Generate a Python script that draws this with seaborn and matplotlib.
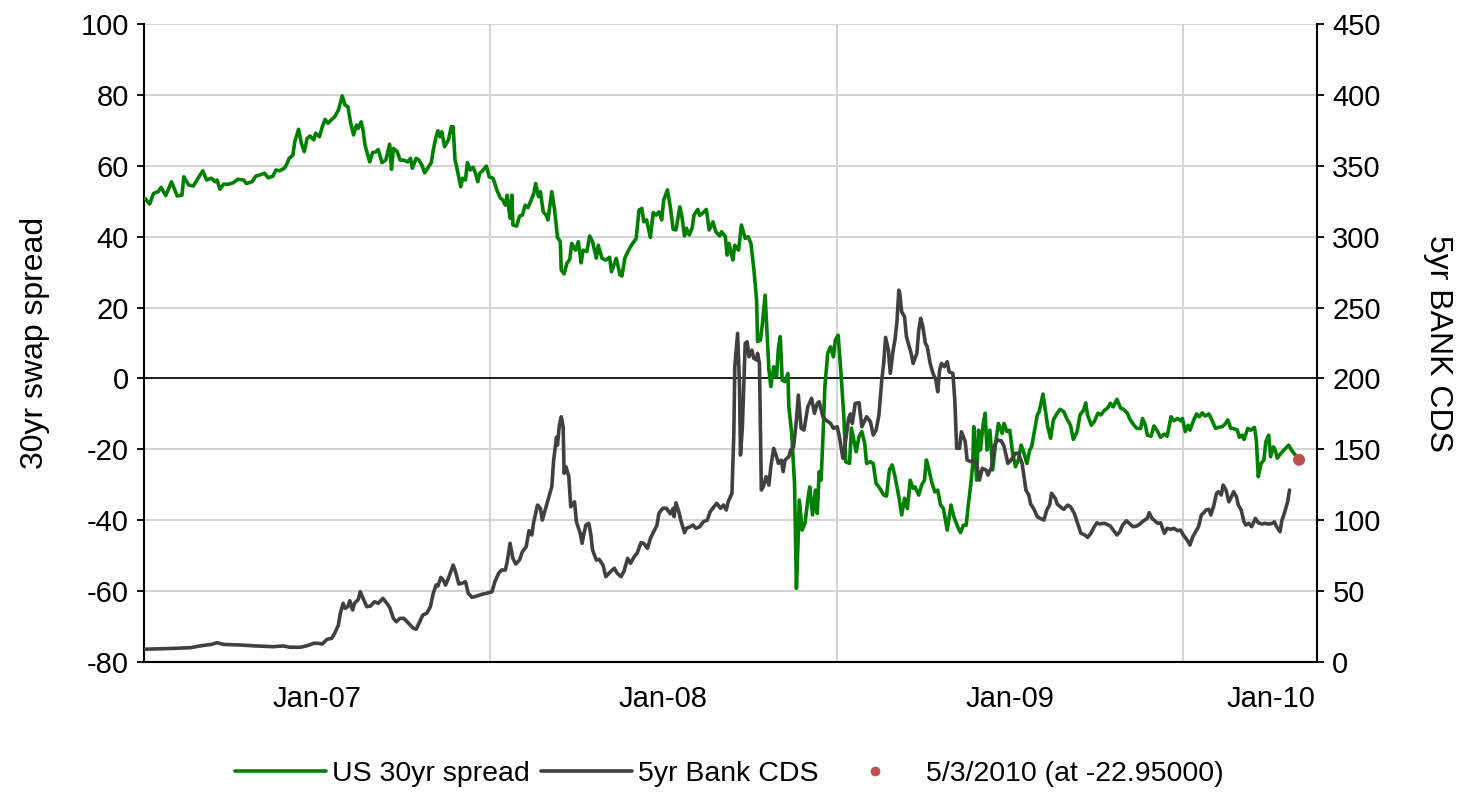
import pandas as pd
import matplotlib
matplotlib.use("Agg")
import matplotlib.pyplot as plt
import matplotlib.dates as mdates
import matplotlib.ticker as mticker
from matplotlib.lines import Line2D
from matplotlib.transforms import blended_transform_factory
import seaborn as sns

sns.set_style("white")
plt.rcParams["font.family"] = ["Liberation Sans", "DejaVu Sans"]
plt.rcParams["axes.unicode_minus"] = False
for key in ("text.color", "axes.labelcolor", "xtick.color", "ytick.color"):
    plt.rcParams[key] = "black"

# ---------------------------------------------------------------- data
START = pd.Timestamp("2007-01-01")

# US 30yr swap spread (bp); observation dates as days since 1 Jan 2007
spread_day = [
    1, 6, 10, 15, 18, 23, 29, 35, 40, 42, 47, 52, 57, 62, 66, 71, 75, 77, 80, 84,
    89, 94, 99, 105, 108, 114, 118, 122, 127, 131, 136, 139, 143, 148, 151, 153, 157, 159, 163, 166,
    169, 172, 175, 179, 181, 185, 188, 191, 194, 198, 201, 205, 209, 212, 215, 218, 221, 224, 226, 229,
    231, 233, 238, 241, 245, 247, 251, 255, 259, 261, 263, 267, 270, 274, 278, 281, 283, 287, 290, 293,
    296, 300, 303, 305, 308, 310, 312, 314, 317, 321, 324, 326, 328, 330, 334, 336, 339, 341, 344, 347,
    349, 352, 354, 357, 361, 364, 368, 370, 372, 376, 378, 381, 383, 386, 388, 389, 393, 396, 399, 402,
    405, 409, 411, 413, 416, 418, 421, 424, 426, 430, 433, 436, 439, 440, 443, 446, 449, 451, 455, 458,
    461, 463, 467, 470, 473, 477, 479, 483, 487, 491, 493, 498, 502, 504, 507, 511, 514, 519, 522, 525,
    527, 530, 534, 537, 540, 543, 546, 548, 552, 555, 558, 561, 565, 567, 570, 572, 575, 578, 580, 584,
    586, 589, 593, 596, 600, 603, 607, 609, 613, 615, 617, 621, 623, 627, 630, 634, 637, 640, 643, 646,
    647, 650, 652, 655, 657, 659, 661, 664, 667, 669, 671, 673, 676, 679, 680, 683, 686, 688, 690, 691,
    694, 697, 700, 702, 705, 708, 710, 712, 714, 716, 718, 721, 724, 727, 729, 732, 735, 738, 740, 744,
    746, 751, 754, 757, 760, 762, 766, 769, 772, 776, 780, 783, 786, 789, 792, 796, 799, 802, 805, 808,
    811, 813, 817, 820, 823, 825, 827, 831, 834, 837, 840, 843, 847, 851, 854, 858, 861, 864, 867, 869,
    872, 874, 875, 878, 880, 882, 885, 887, 889, 892, 895, 898, 901, 905, 907, 910, 913, 916, 919, 922,
    925, 927, 931, 934, 936, 940, 942, 944, 948, 950, 953, 956, 959, 963, 966, 970, 973, 977, 980, 984,
    987, 991, 993, 995, 999, 1002, 1006, 1009, 1013, 1016, 1019, 1022, 1026, 1030, 1033, 1037, 1040, 1044, 1047, 1051,
    1053, 1056, 1058, 1062, 1065, 1069, 1072, 1076, 1079, 1083, 1086, 1090, 1093, 1095, 1098, 1101, 1103, 1107, 1110, 1113,
    1116, 1119, 1123, 1126, 1130, 1133, 1137, 1140, 1143, 1146, 1149, 1153, 1155, 1158, 1160, 1164, 1167, 1171, 1173, 1175,
    1178, 1181, 1183, 1186, 1188, 1191, 1193, 1195, 1199, 1202, 1205, 1207, 1210,
]
spread_bp = [
    50.8, 49.2, 52.2, 52.7, 53.9, 51.6, 55.5, 51.5, 51.7, 56.9, 54.6, 54.3, 56.5, 58.6, 56.0, 56.5, 55.5, 56.0, 53.4, 54.8,
    54.8, 55.2, 56.2, 56.0, 55.0, 55.5, 57.1, 57.4, 57.9, 56.6, 57.1, 58.8, 58.6, 59.3, 60.7, 62.1, 63.0, 66.8, 70.3, 66.3,
    64.0, 67.7, 68.4, 67.3, 69.2, 68.2, 71.0, 73.1, 72.0, 73.1, 73.8, 75.7, 79.7, 77.1, 76.7, 72.0, 68.7, 71.5, 70.6, 72.4,
    70.1, 65.9, 61.1, 63.7, 64.0, 64.6, 60.9, 61.6, 66.1, 59.0, 64.9, 64.0, 61.6, 61.6, 61.1, 62.1, 59.3, 62.1, 61.6, 60.2,
    58.0, 59.7, 60.9, 64.4, 68.2, 69.9, 68.2, 69.6, 65.4, 67.3, 71.0, 71.0, 61.6, 59.3, 54.1, 56.5, 56.0, 60.9, 58.8, 59.6,
    58.3, 55.5, 57.9, 58.6, 59.9, 56.9, 56.5, 55.0, 53.2, 50.8, 50.5, 48.9, 51.7, 45.2, 51.7, 43.3, 43.0, 45.8, 46.1, 48.9,
    48.2, 50.8, 52.2, 55.0, 51.3, 52.7, 47.0, 46.1, 44.7, 52.7, 47.5, 39.8, 38.6, 30.6, 29.5, 32.5, 33.6, 38.1, 36.2, 38.6,
    32.6, 36.2, 35.8, 40.2, 38.6, 33.9, 37.6, 33.9, 33.4, 34.2, 30.1, 33.9, 29.2, 28.9, 33.9, 36.2, 37.6, 39.5, 47.5, 48.0,
    44.2, 44.7, 39.8, 46.8, 46.1, 47.0, 44.7, 50.3, 53.2, 48.4, 42.1, 41.9, 48.4, 46.1, 40.2, 42.4, 40.5, 42.4, 46.1, 47.7,
    46.0, 46.6, 47.7, 41.9, 44.2, 41.4, 40.2, 41.4, 40.0, 34.8, 38.1, 33.4, 37.6, 36.2, 43.3, 39.5, 40.0, 38.1, 31.1, 22.1,
    10.4, 10.8, 15.1, 23.5, 12.7, 2.4, -2.3, 3.3, 0.5, 8.5, 11.8, -0.5, -0.9, 1.4, -8.0, -15.5, -29.6, -59.2, -43.7, -34.3,
    -42.8, -40.9, -34.3, -30.6, -38.5, -31.5, -38.1, -26.3, -28.7, -16.4, -2.3, 7.1, 8.9, 6.1, 10.8, 12.2, 1.4, -10.8, -23.5, -24.0,
    -14.0, -20.7, -16.4, -15.0, -18.3, -24.0, -23.5, -24.0, -29.6, -31.0, -32.9, -33.2, -25.8, -24.4, -27.7, -33.4, -38.5, -33.8, -36.7, -28.7,
    -31.0, -30.6, -32.9, -30.1, -28.7, -23.0, -24.9, -29.6, -32.0, -31.5, -35.7, -36.7, -42.8, -35.7, -39.0, -41.8, -43.5, -41.4, -41.4, -36.2,
    -29.6, -24.0, -13.6, -28.7, -14.6, -20.2, -12.7, -9.8, -20.2, -14.6, -25.8, -18.3, -12.7, -15.5, -12.7, -15.0, -14.6, -21.1, -24.9, -23.0,
    -18.8, -20.2, -24.0, -20.2, -19.3, -13.2, -10.3, -9.4, -4.4, -8.0, -13.6, -16.9, -11.7, -9.8, -8.7, -9.4, -11.3, -13.2, -17.2, -15.0,
    -10.3, -8.9, -6.9, -10.3, -13.2, -12.2, -9.8, -10.3, -8.9, -8.4, -7.0, -8.0, -5.9, -8.4, -8.7, -9.8, -11.7, -13.2, -14.1, -14.1,
    -11.3, -13.2, -16.0, -16.3, -13.4, -15.0, -16.6, -15.7, -16.3, -10.8, -11.9, -11.3, -11.9, -11.3, -15.0, -13.2, -14.6, -11.7, -10.0, -10.8,
    -9.7, -10.6, -10.0, -11.7, -14.1, -13.8, -13.6, -12.9, -11.7, -14.1, -14.1, -14.6, -16.6, -16.0, -17.2, -14.1, -14.6, -13.8, -17.4, -27.7,
    -24.0, -23.0, -17.9, -16.0, -22.1, -19.3, -20.2, -22.5, -21.1, -20.2, -19.4, -18.8, -20.2,
]

# latest spread observation, highlighted with a marker
last_date = "2010-05-03"
last_value = -22.95

# 5yr bank CDS (bp); observation dates as days since 1 Jan 2007
cds_day = [
    0, 31, 49, 59, 66, 71, 77, 84, 101, 119, 136, 147, 154, 165, 172, 179, 184, 188, 193, 198,
    201, 205, 207, 210, 212, 215, 217, 220, 222, 226, 228, 231, 235, 239, 243, 247, 252, 256, 259, 263,
    266, 270, 274, 279, 284, 287, 290, 294, 298, 302, 305, 308, 310, 313, 316, 318, 321, 326, 328, 332,
    335, 339, 342, 346, 351, 356, 361, 367, 370, 374, 377, 381, 383, 386, 389, 392, 396, 399, 403, 406,
    409, 411, 415, 418, 420, 424, 428, 430, 432, 435, 436, 438, 440, 442, 443, 445, 448, 450, 454, 456,
    460, 462, 464, 466, 469, 471, 473, 477, 480, 484, 487, 492, 496, 499, 503, 506, 510, 513, 517, 520,
    524, 527, 531, 534, 537, 541, 543, 547, 551, 555, 558, 559, 561, 564, 566, 570, 572, 576, 579, 582,
    586, 590, 594, 597, 601, 604, 608, 611, 614, 616, 620, 622, 623, 626, 628, 629, 631, 634, 636, 638,
    641, 643, 646, 647, 649, 651, 653, 656, 659, 661, 664, 667, 669, 672, 674, 676, 680, 682, 685, 688,
    690, 693, 696, 700, 704, 707, 710, 712, 716, 719, 724, 727, 731, 733, 737, 740, 743, 745, 747, 750,
    754, 757, 762, 766, 769, 772, 775, 778, 780, 782, 785, 787, 790, 792, 794, 796, 797, 799, 802, 804,
    806, 809, 811, 815, 817, 819, 821, 824, 826, 829, 832, 835, 837, 839, 841, 844, 847, 849, 853, 855,
    857, 860, 862, 866, 868, 872, 875, 878, 881, 884, 888, 890, 894, 896, 900, 904, 907, 911, 915, 919,
    922, 926, 928, 930, 933, 935, 938, 942, 945, 949, 952, 955, 957, 961, 963, 967, 970, 974, 977, 981,
    984, 988, 992, 995, 999, 1002, 1005, 1008, 1012, 1015, 1019, 1022, 1026, 1029, 1032, 1036, 1039, 1043, 1047, 1051,
    1054, 1058, 1060, 1063, 1066, 1069, 1072, 1076, 1079, 1083, 1086, 1090, 1093, 1096, 1100, 1103, 1106, 1110, 1112, 1115,
    1117, 1120, 1123, 1125, 1128, 1131, 1133, 1136, 1138, 1141, 1144, 1146, 1149, 1152, 1154, 1157, 1160, 1162, 1165, 1168,
    1172, 1175, 1179, 1182, 1186, 1190, 1192, 1194, 1198, 1200, 1202, 1205, 1206, 1208,
]
cds_bp = [
    9.0, 9.6, 10.1, 11.3, 12.0, 12.4, 13.6, 12.4, 12.0, 11.3, 10.8, 11.3, 10.4, 10.4, 11.5, 13.2, 13.2, 12.7, 16.0, 16.7,
    20.2, 26.1, 34.3, 41.4, 37.9, 39.0, 43.2, 36.7, 41.4, 44.2, 49.6, 44.9, 39.0, 39.5, 42.5, 41.4, 44.9, 41.4, 38.6, 30.8,
    28.4, 30.8, 30.8, 27.3, 23.8, 23.1, 27.3, 33.1, 34.3, 39.0, 48.4, 54.3, 53.6, 59.7, 57.3, 54.3, 59.0, 68.4, 64.9, 55.0,
    55.5, 56.6, 48.4, 45.6, 46.5, 47.7, 48.4, 49.6, 56.6, 62.6, 64.9, 64.9, 70.7, 83.7, 73.1, 69.1, 72.0, 77.8, 81.3, 92.6,
    89.6, 98.9, 110.7, 108.4, 100.1, 109.5, 119.0, 123.6, 142.4, 158.5, 153.0, 167.1, 173.0, 165.9, 133.1, 137.7, 130.7, 109.5, 113.0, 98.9,
    90.8, 83.7, 90.8, 96.6, 97.8, 90.8, 79.0, 71.9, 72.4, 68.4, 60.2, 63.7, 66.1, 62.6, 60.2, 63.7, 73.1, 69.6, 74.3, 76.7,
    84.1, 83.7, 80.2, 87.2, 91.2, 96.6, 104.9, 108.4, 108.4, 104.4, 108.4, 102.5, 112.3, 106.0, 100.1, 91.2, 94.3, 95.4, 96.6, 94.3,
    95.4, 99.0, 100.1, 106.0, 109.5, 111.9, 108.4, 110.7, 107.2, 113.0, 119.0, 161.3, 208.3, 231.8, 194.2, 146.0, 165.9, 224.8, 225.9, 215.3,
    220.0, 214.2, 213.0, 217.7, 210.6, 121.3, 123.6, 130.7, 124.8, 137.7, 150.7, 144.8, 140.1, 142.4, 134.2, 142.4, 144.8, 149.5, 151.8, 170.7,
    188.3, 164.8, 163.6, 180.0, 186.0, 175.4, 182.4, 183.6, 173.0, 170.7, 168.3, 164.8, 165.9, 160.1, 143.7, 156.6, 171.9, 175.0, 168.3, 182.4,
    182.9, 165.9, 173.0, 169.5, 160.1, 163.6, 174.2, 198.9, 210.6, 229.0, 220.0, 203.6, 220.0, 227.6, 240.0, 262.3, 260.0, 247.0, 243.5, 229.4,
    224.8, 217.7, 210.6, 217.7, 234.1, 242.4, 237.7, 224.8, 222.4, 210.6, 203.6, 198.9, 190.6, 205.9, 210.6, 208.3, 211.8, 204.7, 203.6, 184.8,
    150.7, 150.7, 162.4, 155.4, 142.4, 141.3, 142.4, 140.1, 128.3, 136.6, 135.4, 131.9, 137.7, 151.8, 156.6, 156.0, 152.0, 140.1, 143.0, 147.2,
    147.2, 140.1, 130.7, 121.3, 117.8, 111.4, 108.4, 102.5, 101.3, 100.1, 107.2, 110.7, 119.0, 115.4, 111.4, 109.1, 107.7, 110.7, 109.5, 104.9,
    98.9, 90.8, 89.6, 87.9, 91.2, 95.4, 98.2, 97.3, 97.8, 97.3, 95.9, 93.1, 89.6, 91.9, 96.6, 99.6, 97.8, 95.4, 95.9, 97.8,
    99.6, 101.3, 105.3, 101.3, 99.5, 97.8, 98.2, 90.8, 94.3, 93.6, 94.3, 92.6, 93.1, 89.6, 86.0, 82.5, 88.4, 93.1, 95.4, 103.7,
    104.9, 107.2, 107.7, 103.7, 110.0, 119.0, 120.1, 117.8, 124.8, 121.3, 113.0, 115.4, 120.1, 116.6, 110.7, 107.2, 98.9, 96.6, 97.8, 95.4,
    101.3, 98.2, 97.3, 97.8, 97.3, 97.8, 98.9, 95.9, 91.9, 100.1, 103.7, 110.7, 113.0, 121.3,
]

# axis scales and labels
left_ticks = [-80, -60, -40, -20, 0, 20, 40, 60, 80, 100]
right_ticks = [0, 50, 100, 150, 200, 250, 300, 350, 400, 450]
year_lines = ["2008-01-01", "2009-01-01", "2010-01-01"]
x_end = "2010-05-22"
xlabel_dates = ["2007-07-02", "2008-07-01", "2009-07-02", "2010-04-03"]
xlabel_texts = ["Jan-07", "Jan-08", "Jan-09", "Jan-10"]

GREEN = "#008000"
GREY = "#404040"
RED = "#c0504d"
GRID = "#d4d4d4"

# ---------------------------------------------------------------- frames
spread = pd.DataFrame({
    "date": list(START + pd.to_timedelta(spread_day, unit="D")) + [pd.Timestamp(last_date)],
    "value": spread_bp + [last_value],
})
cds = pd.DataFrame({
    "date": START + pd.to_timedelta(cds_day, unit="D"),
    "value": cds_bp,
})

# ---------------------------------------------------------------- figure
fig = plt.figure(figsize=(14.59, 7.93), dpi=100)
ax = fig.add_axes([0.0987, 0.1652, 0.8040, 0.8045])
ax2 = ax.twinx()

sns.lineplot(data=spread, x="date", y="value", ax=ax, color=GREEN, lw=2.6,
             legend=False, zorder=3)
sns.lineplot(data=cds, x="date", y="value", ax=ax2, color=GREY, lw=2.6,
             legend=False, zorder=3)
sns.scatterplot(x=[pd.Timestamp(last_date)], y=[last_value], ax=ax, color=RED,
                s=75, edgecolor="none", zorder=5, legend=False)

# left axis
ax.set_ylim(left_ticks[0], left_ticks[-1])
ax.set_yticks(left_ticks)
ax.yaxis.grid(True, color=GRID, lw=1.5, zorder=0)
ax.set_axisbelow(True)
ax.axhline(0, color="black", lw=1.2, zorder=2)
for d in year_lines:
    ax.axvline(pd.Timestamp(d), color=GRID, lw=1.5, zorder=0)

# right axis
ax2.set_ylim(right_ticks[0], right_ticks[-1])
ax2.set_yticks(right_ticks)

# time axis
ax.set_xlim(START, pd.Timestamp(x_end))
ax.xaxis.set_major_locator(mdates.YearLocator())
ax.xaxis.set_minor_locator(mdates.MonthLocator())
ax.xaxis.set_major_formatter(mticker.NullFormatter())
ax.tick_params(axis="x", which="major", length=11, width=1.3, direction="out", color="black")
ax.tick_params(axis="x", which="minor", length=6.5, width=1.0, direction="out", color="black")
trans = blended_transform_factory(ax.transData, ax.transAxes)
for d, t in zip(xlabel_dates, xlabel_texts):
    ax.text(pd.Timestamp(d), -0.058, t, transform=trans, ha="center", va="center",
            fontsize=21)

ax.tick_params(axis="y", length=5, width=1.3, direction="out", pad=6, labelsize=21,
               color="black", left=True)
ax2.tick_params(axis="y", length=5, width=1.3, direction="out", pad=6, labelsize=21,
                color="black", right=True)

ax.set_xlabel("")
ax.set_ylabel("30yr swap spread", fontsize=23, labelpad=22)
ax2.set_ylabel("5yr BANK CDS", fontsize=23, rotation=-90, labelpad=52)

for a in (ax, ax2):
    a.spines["top"].set_visible(False)
    for side in ("left", "right", "bottom"):
        a.spines[side].set_color("black")
        a.spines[side].set_linewidth(1.5)
ax.spines["right"].set_visible(False)
ax2.spines["left"].set_visible(False)
ax2.spines["bottom"].set_visible(False)

handles = [
    Line2D([], [], color=GREEN, lw=2.6),
    Line2D([], [], color=GREY, lw=2.6),
    Line2D([], [], color=RED, marker="o", markersize=6, lw=0),
]
labels = ["US 30yr spread", "5yr Bank CDS", "5/3/2010 (at -22.95000)"]
fig.legend(handles, labels, loc="center", bbox_to_anchor=(0.5, 0.024), ncol=3,
           frameon=False, fontsize=20.5, handlelength=3.2, handletextpad=0.2,
           columnspacing=0.4)

fig.savefig("out.png", dpi=100)
